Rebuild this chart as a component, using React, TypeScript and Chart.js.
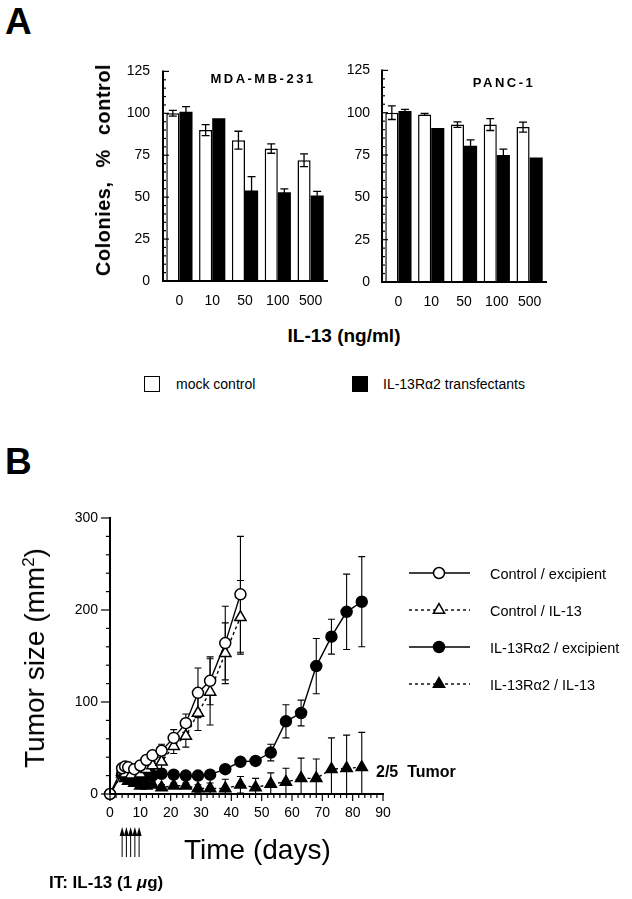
import React, { useEffect, useRef } from 'react';
import { Chart, registerables } from 'chart.js';
Chart.register(...registerables);

const FONT = '"Liberation Sans", Arial, Helvetica, sans-serif';

// ---------- Panel A data ----------
const doseLabels = ['0', '10', '50', '100', '500'];
const mdaMock = [100, 90, 84, 79, 72];
const mdaMockErr = [1.7, 3.3, 5.3, 2.8, 3.8];
const mdaTrans = [101, 97, 54, 53, 51];
const mdaTransErr = [3, 0, 8.3, 2, 2.5];
const pancMock = [100, 99, 93, 93, 91.5];
const pancMockErr = [4, 0.6, 1.6, 3.5, 3];
const pancTrans = [101, 91, 80.5, 75, 73.5];
const pancTransErr = [1, 0, 3.5, 3.5, 0];

// ---------- Panel B data ----------
const ctrlExcDays = [0, 4, 5, 6, 8, 10, 12, 14, 17, 21, 25, 29, 33, 38, 43];
const ctrlExcVals = [0, 28, 30, 29, 27, 31, 37, 42, 47, 61, 77, 110, 123, 164, 217];
const ctrlExcErr = [0, 3, 3, 3, 3, 4, 4, 4, 7, 9, 10, 27, 26, 40, 63];

const ctrlIl13Days = [0, 4, 5, 7, 10, 12, 14, 17, 21, 25, 29, 33, 38, 43];
const ctrlIl13Vals = [0, 24, 22, 21, 22, 27, 31, 35, 52, 63, 88, 111, 153, 192];
const ctrlIl13Err = [0, 3, 3, 3, 3, 4, 4, 8, 8, 12, 19, 36, 33, 40];

const raExcDays = [0, 4, 6, 8, 10, 12, 14, 17, 21, 25, 29, 33, 38, 43, 48, 53, 58, 63, 68, 73, 78, 83];
const raExcVals = [0, 22, 17, 15, 18, 19, 20, 22, 21, 20, 20, 21, 27, 35, 36, 45, 79, 88, 139, 171, 198, 209];
const raExcErr = [0, 3, 3, 3, 3, 3, 3, 3, 3, 3, 3, 3, 4, 4, 4, 9, 18, 14, 30, 19, 41, 49];

const raIl13Days = [0, 4, 5, 6, 8, 10, 12, 14, 17, 21, 25, 29, 33, 38, 43, 48, 53, 58, 63, 68, 73, 78, 83];
const raIl13Vals = [0, 22, 17, 14, 12, 9, 9, 10, 7, 9, 9, 6, 6, 6, 10, 7, 11, 13, 17, 17, 27, 28, 29];
const raIl13Err = [0, 3, 3, 3, 3, 3, 3, 3, 3, 3, 3, 4, 6, 10, 9, 10, 12, 15, 22, 21, 34, 36, 38];

const injectionDays = [4, 5.4, 6.8, 8.2, 9.6];

const pts = (xs: number[], ys: number[]) => xs.map((x, i) => ({ x, y: ys[i] }));

// ---------- plugins ----------
const axesPlugin = {
  id: 'axesDraw',
  afterDatasetsDraw(chart: any, _a: any, o: any) {
    const { ctx, chartArea: a, scales } = chart;
    const xs = scales.x, ys = scales.y;
    ctx.save();
    ctx.strokeStyle = '#000';
    ctx.lineWidth = o.lw;
    ctx.lineCap = 'square';
    ctx.beginPath();
    ctx.moveTo(a.left, a.top);
    ctx.lineTo(a.left, a.bottom);
    ctx.lineTo(a.right, a.bottom);
    ctx.stroke();
    ctx.lineWidth = o.tw;
    ctx.lineCap = 'butt';
    const yMin = ys.min, yMax = ys.max;
    for (let v = yMin; v <= yMax + 1e-9; v += o.yMinor) {
      const r = v / o.yMajor;
      const major = Math.abs(r - Math.round(r)) < 1e-6;
      const len = major ? o.yMajorLen : o.yMinorLen;
      const y = ys.getPixelForValue(v);
      ctx.beginPath();
      ctx.moveTo(a.left, y);
      ctx.lineTo(a.left + o.yDir * len, y);
      ctx.stroke();
    }
    if (o.xMinor) {
      for (let v = xs.min; v <= xs.max + 1e-9; v += o.xMinor) {
        const r = v / o.xMajor;
        const major = Math.abs(r - Math.round(r)) < 1e-6;
        const len = major ? o.xMajorLen : o.xMinorLen;
        const x = xs.getPixelForValue(v);
        ctx.beginPath();
        ctx.moveTo(x, a.bottom);
        ctx.lineTo(x, a.bottom + len);
        ctx.stroke();
      }
    }
    ctx.restore();
  },
};

const barErrPlugin = {
  id: 'barErr',
  afterDatasetsDraw(chart: any) {
    const ctx = chart.ctx;
    const ys = chart.scales.y;
    ctx.save();
    ctx.strokeStyle = '#000';
    ctx.lineWidth = 1.3;
    chart.data.datasets.forEach((ds: any, i: number) => {
      const meta = chart.getDatasetMeta(i);
      meta.data.forEach((el: any, j: number) => {
        const e = ds.errs[j];
        if (!e) return;
        const v = ds.data[j];
        const x = el.x;
        const y1 = ys.getPixelForValue(v + e);
        const y2 = ys.getPixelForValue(v - e);
        ctx.beginPath();
        ctx.moveTo(x, y1); ctx.lineTo(x, y2);
        ctx.moveTo(x - 4, y1); ctx.lineTo(x + 4, y1);
        ctx.moveTo(x - 4, y2); ctx.lineTo(x + 4, y2);
        ctx.stroke();
      });
    });
    ctx.restore();
  },
};

const lineErrPlugin = {
  id: 'lineErr',
  beforeDatasetsDraw(chart: any) {
    const ctx = chart.ctx;
    const ys = chart.scales.y;
    ctx.save();
    ctx.strokeStyle = '#000';
    ctx.lineWidth = 1.1;
    chart.data.datasets.forEach((ds: any, i: number) => {
      const meta = chart.getDatasetMeta(i);
      meta.data.forEach((el: any, j: number) => {
        const e = ds.errs[j];
        if (!e) return;
        const v = ds.data[j].y;
        const x = el.x;
        const y1 = ys.getPixelForValue(v + e);
        const y2 = ys.getPixelForValue(Math.max(v - e, 0));
        ctx.beginPath();
        ctx.moveTo(x, y1); ctx.lineTo(x, y2);
        ctx.moveTo(x - 3.5, y1); ctx.lineTo(x + 3.5, y1);
        ctx.moveTo(x - 3.5, y2); ctx.lineTo(x + 3.5, y2);
        ctx.stroke();
      });
    });
    ctx.restore();
  },
};

function drawMarker(ctx: any, style: string, x: number, y: number, r: number, fill: string) {
  ctx.beginPath();
  if (style === 'circle') {
    ctx.arc(x, y, r, 0, Math.PI * 2);
  } else {
    const s = Math.sin(Math.PI / 3) * r;
    ctx.moveTo(x, y - r);
    ctx.lineTo(x + s, y + r / 2);
    ctx.lineTo(x - s, y + r / 2);
    ctx.closePath();
  }
  ctx.fillStyle = fill;
  ctx.fill();
  ctx.stroke();
}

const bExtrasPlugin = {
  id: 'bExtras',
  afterDraw(chart: any, _a: any, o: any) {
    const ctx = chart.ctx;
    const xs = chart.scales.x;
    ctx.save();
    // legend symbols
    chart.data.datasets.forEach((ds: any, i: number) => {
      const y = o.legendY[i];
      ctx.strokeStyle = '#000';
      ctx.lineWidth = 1.4;
      ctx.setLineDash(ds.borderDash || []);
      ctx.beginPath();
      ctx.moveTo(o.legendX1, y);
      ctx.lineTo(o.legendX2, y);
      ctx.stroke();
      ctx.setLineDash([]);
      ctx.lineWidth = 1.5;
      drawMarker(ctx, ds.pointStyle, o.legendMX, y, ds.pointStyle === 'circle' ? 5.5 : 6.5, ds.pointBackgroundColor);
    });
    // injection arrows
    ctx.strokeStyle = '#000';
    ctx.fillStyle = '#000';
    ctx.lineWidth = 1;
    injectionDays.forEach((d) => {
      const x = xs.getPixelForValue(d);
      ctx.beginPath();
      ctx.moveTo(x, o.arrowBottom);
      ctx.lineTo(x, o.arrowTop + 6);
      ctx.stroke();
      ctx.beginPath();
      ctx.moveTo(x, o.arrowTop);
      ctx.lineTo(x + 2.5, o.arrowTop + 9);
      ctx.lineTo(x - 2.5, o.arrowTop + 9);
      ctx.closePath();
      ctx.fill();
    });
    ctx.restore();
  },
};

// ---------- configs ----------
function barConfig(mock: number[], mockErr: number[], trans: number[], transErr: number[], g: any) {
  return {
    type: 'bar',
    data: {
      labels: doseLabels,
      datasets: [
        { label: 'mock control', data: mock, errs: mockErr, backgroundColor: '#fff', borderColor: '#000', borderWidth: 1.5, borderSkipped: 'bottom', categoryPercentage: 0.8, barPercentage: 1 },
        { label: 'IL-13Rα2 transfectants', data: trans, errs: transErr, backgroundColor: '#000', borderColor: '#000', borderWidth: 0, categoryPercentage: 0.8, barPercentage: 1 },
      ],
    },
    options: {
      responsive: false,
      animation: false,
      devicePixelRatio: 1,
      layout: { padding: { top: g.padTop, right: g.padRight, left: 0, bottom: 0 } },
      plugins: {
        legend: { display: false },
        tooltip: { enabled: false },
        axesDraw: { lw: 2, tw: 1.2, yMajor: 25, yMinor: 5, yDir: 1, yMajorLen: 6, yMinorLen: 3 },
      },
      scales: {
        x: {
          type: 'category', offset: true,
          grid: { display: false, drawTicks: false }, border: { display: false },
          ticks: { color: '#000', font: { family: FONT, size: 14 }, padding: 12, maxRotation: 0, autoSkip: false },
          afterFit: (s: any) => { s.height = g.xH; },
        },
        y: {
          min: 0, max: 125,
          grid: { display: false, drawTicks: false }, border: { display: false },
          ticks: { stepSize: 25, color: '#000', font: { family: FONT, size: 14 }, padding: g.yPad },
          afterFit: (s: any) => { s.width = g.yW; },
        },
      },
    },
    plugins: [barErrPlugin, axesPlugin],
  };
}

function lineConfig() {
  const base = { borderColor: '#000', borderWidth: 1.4, pointBorderColor: '#000', pointBorderWidth: 1.5, fill: false, tension: 0, clip: false };
  const hideFirst = (r: number) => (c: any) => (c.dataIndex === 0 ? 0 : r);
  return {
    type: 'line',
    data: {
      datasets: [
        { ...base, label: 'Control / excipient', data: pts(ctrlExcDays, ctrlExcVals), errs: ctrlExcErr, pointStyle: 'circle', pointRadius: 5.5, pointBackgroundColor: '#fff' },
        { ...base, label: 'Control / IL-13', data: pts(ctrlIl13Days, ctrlIl13Vals), errs: ctrlIl13Err, borderDash: [3, 3], pointStyle: 'triangle', pointRadius: hideFirst(6.5), pointBackgroundColor: '#fff' },
        { ...base, label: 'IL-13Rα2 / excipient', data: pts(raExcDays, raExcVals), errs: raExcErr, pointStyle: 'circle', pointRadius: hideFirst(5.5), pointBackgroundColor: '#000' },
        { ...base, label: 'IL-13Rα2 / IL-13', data: pts(raIl13Days, raIl13Vals), errs: raIl13Err, borderDash: [3, 3], pointStyle: 'triangle', pointRadius: hideFirst(6.5), pointBackgroundColor: '#000' },
      ],
    },
    options: {
      responsive: false,
      animation: false,
      devicePixelRatio: 1,
      layout: { padding: { top: 28, right: 249, left: 0, bottom: 0 } },
      plugins: {
        legend: { display: false },
        tooltip: { enabled: false },
        axesDraw: { lw: 2, tw: 1.2, yMajor: 100, yMinor: 20, yDir: -1, yMajorLen: 9, yMinorLen: 4, xMajor: 10, xMinor: 2, xMajorLen: 7, xMinorLen: 4 },
        bExtras: { legendY: [83, 120, 157, 194], legendX1: 409, legendX2: 470, legendMX: 439, arrowTop: 337, arrowBottom: 367 },
      },
      scales: {
        x: {
          type: 'linear', min: 0, max: 90,
          grid: { display: false, drawTicks: false }, border: { display: false },
          ticks: { stepSize: 10, color: '#000', font: { family: FONT, size: 14 }, padding: 11, maxRotation: 0 },
          afterFit: (s: any) => { s.height = 96; },
        },
        y: {
          min: 0, max: 300,
          grid: { display: false, drawTicks: false }, border: { display: false },
          ticks: { stepSize: 100, color: '#000', font: { family: FONT, size: 14 }, padding: 12 },
          afterFit: (s: any) => { s.width = 110; },
        },
      },
    },
    plugins: [lineErrPlugin, axesPlugin, bExtrasPlugin],
  };
}

function ChartBox({ left, top, width, height, make }: any) {
  const ref = useRef<HTMLCanvasElement>(null);
  useEffect(() => {
    const c = new Chart(ref.current as HTMLCanvasElement, make());
    return () => c.destroy();
  }, []);
  return <canvas ref={ref} width={width} height={height} style={{ position: 'absolute', left, top, width, height }} />;
}

function Txt({ x, y, size, bold, align = 'left', rotate = false, style, children }: any) {
  const tr = rotate ? 'translate(-50%,-50%) rotate(-90deg)' : align === 'center' ? 'translate(-50%,-50%)' : 'translate(0,-50%)';
  return (
    <div style={{ position: 'absolute', left: x, top: y, fontFamily: FONT, fontSize: size, fontWeight: bold ? 700 : 400, lineHeight: 1, whiteSpace: 'pre', color: '#000', transform: tr, ...style }}>
      {children}
    </div>
  );
}

export default function App() {
  return (
    <div style={{ position: 'absolute', left: 0, top: 0, width: 632, height: 899, background: '#fff', overflow: 'hidden' }}>
      <Txt x={5} y={21} size={37} bold>A</Txt>
      <ChartBox left={100} top={50} width={245} height={270}
        make={() => barConfig(mdaMock, mdaMockErr, mdaTrans, mdaTransErr, { padTop: 15, padRight: 18, xH: 39, yW: 63, yPad: 13 })} />
      <ChartBox left={320} top={50} width={245} height={270}
        make={() => barConfig(pancMock, pancMockErr, pancTrans, pancTransErr, { padTop: 17, padRight: 19, xH: 38, yW: 62, yPad: 12 })} />
      <Txt x={263} y={78} size={13} bold align="center" style={{ letterSpacing: '2.5px' }}>MDA-MB-231</Txt>
      <Txt x={504} y={82} size={13} bold align="center" style={{ letterSpacing: '2.5px' }}>PANC-1</Txt>
      <Txt x={103} y={170} size={20} bold rotate style={{ letterSpacing: '0.5px', wordSpacing: '8px' }}>Colonies, % control</Txt>
      <Txt x={344} y={335} size={19} bold align="center">IL-13 (ng/ml)</Txt>

      <div style={{ position: 'absolute', left: 144, top: 376, width: 14, height: 14, border: '1.5px solid #000', background: '#fff' }} />
      <Txt x={176} y={384} size={14}>mock control</Txt>
      <div style={{ position: 'absolute', left: 352, top: 376, width: 16, height: 16, background: '#000' }} />
      <Txt x={383} y={384} size={14}>IL-13Rα2 transfectants</Txt>

      <Txt x={5} y={461} size={37} bold>B</Txt>
      <ChartBox left={0} top={490} width={632} height={400} make={lineConfig} />
      <Txt x={35} y={658} size={28} rotate>
        Tumor size (mm<sup style={{ fontSize: '0.6em', verticalAlign: 'super', lineHeight: 0 }}>2</sup>)
      </Txt>
      <Txt x={490} y={574} size={14.5}>Control / excipient</Txt>
      <Txt x={490} y={611} size={14.5}>Control / IL-13</Txt>
      <Txt x={490} y={648} size={14.5}>IL-13Rα2 / excipient</Txt>
      <Txt x={490} y={685} size={14.5}>IL-13Rα2 / IL-13</Txt>
      <Txt x={376} y={772} size={16} bold>2/5  Tumor</Txt>
      <Txt x={184} y={850} size={28}>Time (days)</Txt>
      <Txt x={49} y={882} size={17} bold>
        IT: IL-13 (1 <span style={{ fontStyle: 'italic' }}>μ</span>g)
      </Txt>
    </div>
  );
}
